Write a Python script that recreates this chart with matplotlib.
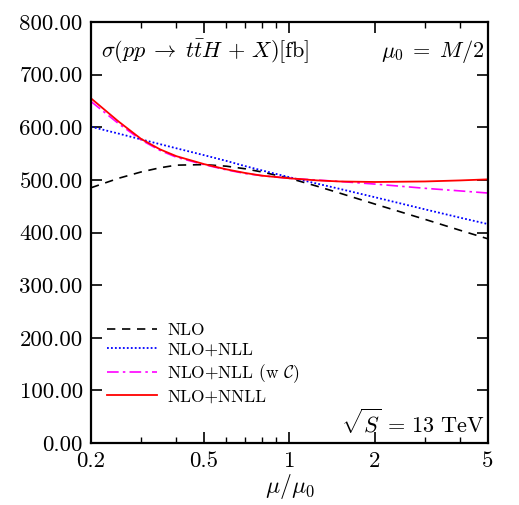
import matplotlib
matplotlib.use("Agg")
import matplotlib.pyplot as plt
from matplotlib.ticker import FixedLocator, FuncFormatter, NullFormatter

plt.rcParams['font.family'] = ['cmr10', 'DejaVu Serif']
plt.rcParams['mathtext.fontset'] = 'cm'
plt.rcParams['axes.formatter.use_mathtext'] = True

# data
mu_nlo = [0.2, 0.25, 0.3, 0.35, 0.4, 0.5, 0.6, 0.7, 0.8, 1.0, 1.25, 1.5, 2.0, 3.0, 4.0, 5.0]
nlo = [485, 503, 515, 523, 528, 529, 526, 521, 515, 503, 488, 475, 454, 425, 404, 388]

mu_nll = [0.2, 0.25, 0.3, 0.4, 0.5, 0.6, 0.7, 0.8, 1.0, 1.5, 2.0, 3.0, 4.0, 5.0]
nll = [601, 588, 577, 560, 547, 536, 526, 518, 505, 483, 467, 444, 428, 416]

mu_nllc = [0.2, 0.25, 0.3, 0.35, 0.4, 0.5, 0.6, 0.7, 0.8, 1.0, 1.5, 2.0, 3.0, 4.0, 5.0]
nllc = [649, 607, 576, 556, 543, 529, 519, 512, 508, 503, 497, 492, 484, 479, 475]

mu_nnll = [0.2, 0.25, 0.3, 0.35, 0.4, 0.5, 0.6, 0.7, 0.8, 1.0, 1.25, 1.5, 2.0, 3.0, 4.0, 5.0]
nnll = [655, 611, 578, 558, 545, 530, 520, 513, 508, 503, 499, 497, 496, 497, 499, 501]

xticks = [0.2, 0.5, 1, 2, 5]
xticklabels = ['0.2', '0.5', '1', '2', '5']
yticks = [0, 100, 200, 300, 400, 500, 600, 700, 800]

fig = plt.figure(figsize=(5.19, 5.05), dpi=100)
ax = fig.add_axes([0.1753, 0.1228, 0.7649, 0.8336])

ax.plot(mu_nlo, nlo, color='black', lw=1.2, ls=(0, (5, 4)), label='NLO')
ax.plot(mu_nll, nll, color='blue', lw=1.3, ls=(0, (1, 1.2)), label='NLO+NLL')
ax.plot(mu_nllc, nllc, color='magenta', lw=1.2, ls=(0, (7, 2.5, 1.5, 2.5)), label=r'NLO+NLL (w $\mathcal{C}$)')
ax.plot(mu_nnll, nnll, color='red', lw=1.3, ls='-', label='NLO+NNLL')

ax.set_xscale('log')
ax.set_xlim(0.2, 5)
ax.set_ylim(0, 800)
ax.xaxis.set_major_locator(FixedLocator(xticks))
ax.xaxis.set_major_formatter(FuncFormatter(lambda v, p: xticklabels[xticks.index(v)] if v in xticks else ''))
ax.xaxis.set_minor_locator(FixedLocator([0.3, 0.4, 0.6, 0.7, 0.8, 0.9, 3, 4]))
ax.xaxis.set_minor_formatter(NullFormatter())
ax.yaxis.set_major_locator(FixedLocator(yticks))
ax.yaxis.set_major_formatter(FuncFormatter(lambda v, p: f'{v:.2f}'))

for s in ax.spines.values():
    s.set_linewidth(1.6)
ax.tick_params(which='major', direction='in', length=8, width=1.2, top=True, right=True, labelsize=16.5, pad=6)
ax.tick_params(which='minor', direction='in', length=4.5, width=1.0, top=True, right=True)

ax.set_xlabel(r'$\mu/\mu_0$', fontsize=17, labelpad=1)

ax.text(0.025, 0.93, r'$\sigma(pp\;\to\;t\bar{t}H\,+\,X)[\mathrm{fb}]$', transform=ax.transAxes,
        fontsize=16, ha='left', va='center')
ax.text(0.99, 0.93, r'$\mu_0\;=\;M/2$', transform=ax.transAxes, fontsize=16, ha='right', va='center')
ax.text(0.99, 0.05, r'$\sqrt{S}\,=\,13\ \mathrm{TeV}$', transform=ax.transAxes, fontsize=16, ha='right', va='center')

ax.legend(loc='lower left', bbox_to_anchor=(0.0, 0.055), frameon=False, fontsize=12.5,
          handlelength=2.9, labelspacing=0.25, handletextpad=0.6)

fig.savefig('out.png', dpi=100)
